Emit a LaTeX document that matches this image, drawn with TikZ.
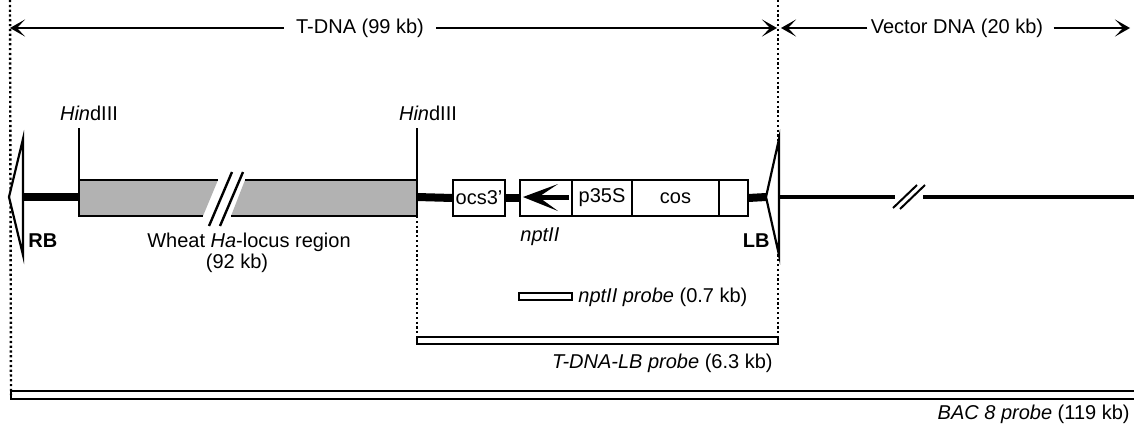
\documentclass[tikz,border=0pt]{standalone}
\usepackage{fontspec}
\setmainfont{Liberation Sans}
\usetikzlibrary{arrows.meta}
\begin{document}
\begin{tikzpicture}[x=0.5pt,y=-0.5pt, font=\fontsize{10}{12}\selectfont,
  dotline/.style={line width=1.2pt, dash pattern=on 1.1pt off 1.3pt},
  dimarrow/.style={line width=1.2pt, -{Stealth[length=7.5pt,width=8.5pt,inset=4pt]}},
  thickdna/.style={line width=4pt},
  thindna/.style={line width=2pt},
  elem/.style={draw, line width=0.9pt, fill=white, inner sep=0pt, outer sep=0pt, minimum height=18pt},
  probe/.style={draw, line width=0.9pt, fill=white, inner sep=0pt, outer sep=0pt, minimum height=3.5pt},
  lbl/.style={inner sep=0pt, anchor=base},
  tri/.style={draw, line width=1.1pt, fill=white, line join=miter},
  locus/.style={fill=black!30},
  brk/.style={line width=1.2pt}]

\useasboundingbox (0,0) rectangle (1134,424);

% ---------------- probes ----------------
\node[probe, minimum width=26.5pt] (nptprobe) at (545.5,296.5) {};
\node[probe, minimum width=180.5pt] (lbprobe) at (597.5,340.5) {};
\node[probe, minimum width=565pt, minimum height=4pt] (bacprobe) at (576,395) {};

% ---------------- dotted borders ----------------
\coordinate (Ltop) at (10,0);
\coordinate (Rtop) at (778,0);
\coordinate (Mtop) at (417,216);
\draw[dotline] (Ltop) -- (bacprobe.west);
\draw[dotline] (Mtop) -- (lbprobe.north west);
\draw[dotline] (Rtop) -- (lbprobe.north east);

% ---------------- top dimension arrows ----------------
\coordinate (Ltip) at (10,28);
\coordinate (Mtip) at (777,28);
\coordinate (Mtip2) at (781,28);
\coordinate (Rtip) at (1130,28);
\node[inner xsep=6pt, inner ysep=0pt] (tdna) at (360,28) {T-DNA (99 kb)};
\node[inner xsep=0pt, inner ysep=0pt] (vec) at (957,28) {Vector DNA (20 kb)};
\draw[dimarrow] (tdna.west) -- (Ltip);
\draw[dimarrow] (tdna.east) -- (Mtip);
\draw[dimarrow] ([xshift=-1.5pt]vec.west) -- (Mtip2);
\draw[dimarrow] ([xshift=5pt]vec.east) -- (Rtip);

% ---------------- HindIII ----------------
\node[lbl] (h1) at (89,120) {\textit{Hin}dIII};
\node[lbl] (h2) at (428,120) {\textit{Hin}dIII};
\coordinate (h1b) at (79,180);
\coordinate (h2b) at (417,180);
\draw[line width=1pt] (79,128) -- (h1b);
\draw[line width=1pt] (417,128) -- (h2b);

% ---------------- DNA backbone ----------------
\coordinate (rbback) at (23,197);
\coordinate (locL) at (79,197);
\coordinate (locR) at (417,197);
\coordinate (lbtip) at (766,197);
\coordinate (lbback) at (779,197);
\coordinate (brkA) at (895,197);
\coordinate (brkB) at (923,197);
\coordinate (Rend) at (1134,197);

\node[elem, minimum width=26pt] (ocs) at (479,198) {ocs3'};
\node[elem, minimum width=26pt] (npt) at (546,198) {};
\node[elem, minimum width=30pt] (p35s) at (602,198) {p35S};
\node[elem, minimum width=43.5pt] (cos) at (675.5,198) {cos};
\node[elem, minimum width=14.5pt] (emp) at (733.5,198) {};

\draw[thickdna] (rbback) -- (locL);
\draw[thickdna] (locR) -- (ocs.west);
\draw[thickdna] (ocs.east) -- (npt.west);
\draw[thickdna] (emp.east) -- (lbtip);
\draw[thindna] (lbback) -- (brkA);
\draw[thindna] (brkB) -- (Rend);
% redraw boxes over lines
\node[elem, minimum width=26pt] at (479,198) {ocs3'};
\node[elem, minimum width=26pt] at (546,198) {};
\node[elem, minimum width=30pt] at (602,198) {p35S};
\node[elem, minimum width=43.5pt] at (675.5,198) {cos};
\node[elem, minimum width=14.5pt] at (733.5,198) {};

% nptII arrow
\fill (523,197) -- (558,184) -- (540,196) -- (540,198) -- (558,211) -- cycle;
\draw[line width=2.5pt] (538,197) -- (569,197);

% wheat locus box with break
\fill[locus] (79,180) -- (218,180) -- (203,216) -- (79,216) -- cycle;
\fill[locus] (245,180) -- (417,180) -- (417,216) -- (231,216) -- cycle;
\draw[line width=0.9pt] (218,180) -- (79,180) -- (79,216) -- (203,216);
\draw[line width=0.9pt] (245,180) -- (417,180) -- (417,216) -- (231,216);
\draw[brk] (209,226) -- (232,172);
\draw[brk] (220,226) -- (243,172);

% vector break
\draw[line width=1pt] (893,208) -- (917,185);
\draw[line width=1pt] (900,209) -- (925,185);

% border triangles
\draw[tri] (9,197) -- (23,139) -- (23,255) -- cycle;
\draw[tri] (lbtip) -- (779,139) -- (779,255) -- cycle;

% ---------------- labels ----------------
\node[lbl, anchor=base west] (rb) at (28,247) {\textbf{RB}};
\node[lbl, anchor=base east] (lb) at (770,247) {\textbf{LB}};
\node[lbl] (wheat) at (249,247) {Wheat \textit{Ha}-locus region};
\node[lbl] (wheatkb) at (237,268) {(92 kb)};
\node[lbl, anchor=base west] (nptlbl) at (520,241) {\textit{nptII}};
\node[lbl, anchor=base west] (nptprobelbl) at (578,302) {\textit{nptII probe} (0.7 kb)};
\node[lbl, anchor=base east] (lbprobelbl) at (773,368) {\textit{T-DNA-LB probe} (6.3 kb)};
\node[lbl, anchor=base east] (bacprobelbl) at (1130,419) {\textit{BAC 8 probe} (119 kb)};
\end{tikzpicture}
\end{document}
